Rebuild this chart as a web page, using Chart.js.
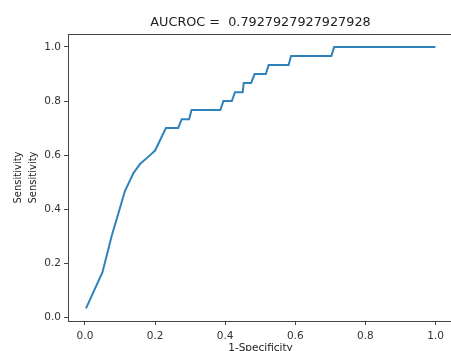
<!DOCTYPE html>
<html>
<head>
<meta charset="utf-8">
<script src="https://cdn.jsdelivr.net/npm/chart.js@4.4.0/dist/chart.umd.min.js"></script>
<style>
  html, body { margin: 0; padding: 0; background: #fff; overflow: hidden; }
  #roc { display: block; }
</style>
</head>
<body>
<canvas id="roc" width="456" height="351"></canvas>
<script>
// roc curve
var fpr = [0.003, 0.05, 0.076, 0.095, 0.114, 0.138, 0.157, 0.186, 0.2, 0.231, 0.266, 0.276, 0.297, 0.304,
  0.386, 0.395, 0.419, 0.428, 0.45, 0.453, 0.474, 0.484, 0.516, 0.524, 0.581, 0.588, 0.703, 0.711, 1.0]
var tpr = [0.033, 0.167, 0.3, 0.383, 0.467, 0.533, 0.567, 0.6, 0.617, 0.7, 0.7, 0.733, 0.733, 0.767,
  0.767, 0.8, 0.8, 0.833, 0.833, 0.867, 0.867, 0.9, 0.9, 0.933, 0.933, 0.967, 0.967, 1.0, 1.0]
var xTicks = [0, 0.2, 0.4, 0.6, 0.8, 1.0]
var yTicks = [0, 0.2, 0.4, 0.6, 0.8, 1.0]
var auc = '0.7927927927927928'

var spine = '#444'
var font = 'DejaVu Sans'

// top spine + title, matplotlib style
const frame = {
  id: 'frame',
  afterDraw(chart) {
    const a = chart.chartArea
    const c = chart.ctx
    c.save()
    c.strokeStyle = spine
    c.lineWidth = 1
    c.beginPath()
    c.moveTo(a.left, a.top + 0.5)
    c.lineTo(a.right, a.top + 0.5)
    c.stroke()
    c.fillStyle = '#222'
    c.font = '12.8px "' + font + '"'
    c.textAlign = 'center'
    c.textBaseline = 'middle'
    c.fillText('AUCROC =  ' + auc, (a.left + a.right) / 2, 23)
    c.restore()
  }
}

const pts = fpr.map((v, i) => ({ x: v, y: tpr[i] }))

new Chart(document.getElementById('roc'), {
  type: 'line',
  data: {
    datasets: [{
      data: pts,
      borderColor: '#2f82bc',
      borderWidth: 2,
      pointRadius: 0,
      tension: 0,
      fill: false
    }]
  },
  options: {
    responsive: false,
    animation: false,
    devicePixelRatio: 1,
    layout: { padding: { top: 34, right: 3, left: 0, bottom: 0 } },
    plugins: { legend: { display: false }, title: { display: false }, tooltip: { enabled: false } },
    scales: {
      x: {
        type: 'linear',
        min: -0.0484,
        max: 1.05,
        afterBuildTicks: s => { s.ticks = xTicks.map(v => ({ value: v })) },
        afterFit: s => { s.height = 30 },
        grid: { drawOnChartArea: false, drawTicks: true, tickLength: 4, color: spine },
        border: { color: spine, width: 1 },
        ticks: { color: '#333', font: { family: font, size: 10.5 }, padding: 5, maxRotation: 0,
          callback: v => v.toFixed(1) },
        title: { display: true, text: '1-Specificity', color: '#222', font: { family: font, size: 10.5 },
          padding: { top: 0, bottom: -4 } }
      },
      y: {
        type: 'linear',
        min: -0.0135,
        max: 1.048,
        afterBuildTicks: s => { s.ticks = yTicks.map(v => ({ value: v })) },
        afterFit: s => { s.width = 68 },
        grid: { drawOnChartArea: false, drawTicks: true, tickLength: 4, color: spine },
        border: { color: spine, width: 1 },
        ticks: { color: '#333', font: { family: font, size: 10.5 }, padding: 3,
          callback: v => v.toFixed(1) },
        title: { display: true, text: ['Sensitivity', 'Sensitivity'], color: '#222',
          font: { family: font, size: 10, lineHeight: 1.5 }, padding: { top: 10.5, bottom: 0 } }
      }
    }
  },
  plugins: [frame]
})
</script>
</body>
</html>
